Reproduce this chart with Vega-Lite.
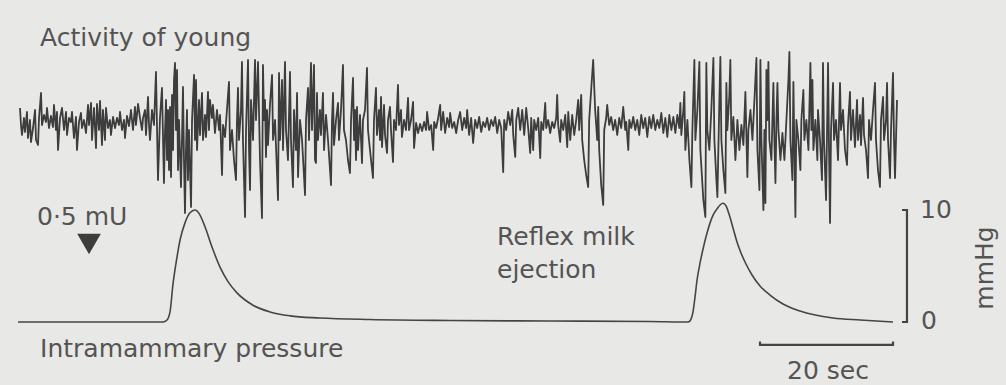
{
  "$schema": "https://vega.github.io/schema/vega-lite/v6.json",
  "width": 1006,
  "height": 385,
  "autosize": {"type": "fit", "contains": "padding"},
  "padding": 0,
  "background": "#e8e8e6",
  "config": {"view": {"stroke": null}},
  "datasets": {
    "activity": [
      {"t":0.30,"a":1.7},{"t":0.45,"a":0.0},{"t":0.60,"a":-1.0},{"t":0.90,"a":0.7},{"t":1.05,"a":-0.7},{"t":1.35,"a":1.3},{"t":1.50,"a":-1.3},{"t":1.80,"a":0.5},{"t":1.95,"a":-1.7},{"t":2.26,"a":-0.3},
      {"t":2.56,"a":1.5},{"t":2.71,"a":-1.5},{"t":3.01,"a":-2.0},{"t":3.16,"a":0.7},{"t":3.46,"a":3.2},{"t":3.61,"a":0.0},{"t":3.91,"a":1.0},{"t":4.21,"a":0.3},{"t":4.36,"a":1.7},{"t":4.66,"a":-0.3},
      {"t":4.96,"a":0.9},{"t":5.26,"a":-0.2},{"t":5.41,"a":2.0},{"t":5.71,"a":-0.5},{"t":5.86,"a":1.3},{"t":6.02,"a":-2.5},{"t":6.32,"a":0.7},{"t":6.62,"a":1.7},{"t":6.92,"a":-0.5},{"t":7.22,"a":1.3},
      {"t":7.37,"a":-1.0},{"t":7.67,"a":0.7},{"t":7.97,"a":0.3},{"t":8.12,"a":1.3},{"t":8.42,"a":-1.3},{"t":8.72,"a":0.8},{"t":8.87,"a":-2.5},{"t":9.17,"a":0.3},{"t":9.47,"a":1.2},{"t":9.62,"a":-0.3},
      {"t":9.92,"a":0.5},{"t":10.23,"a":-0.8},{"t":10.53,"a":2.0},{"t":10.68,"a":0.0},{"t":10.98,"a":2.2},{"t":11.13,"a":-1.5},{"t":11.43,"a":1.7},{"t":11.73,"a":-2.3},{"t":11.88,"a":2.1},{"t":12.18,"a":-0.5},
      {"t":12.33,"a":2.4},{"t":12.63,"a":-2.0},{"t":12.78,"a":1.5},{"t":13.08,"a":-1.5},{"t":13.23,"a":1.7},{"t":13.53,"a":-0.3},{"t":13.83,"a":0.5},{"t":13.98,"a":-1.0},{"t":14.29,"a":0.8},{"t":14.59,"a":-0.3},
      {"t":14.89,"a":0.7},{"t":15.19,"a":0.0},{"t":15.34,"a":1.3},{"t":15.64,"a":-0.5},{"t":15.94,"a":0.5},{"t":16.09,"a":-1.3},{"t":16.39,"a":0.9},{"t":16.69,"a":-0.1},{"t":16.99,"a":1.5},{"t":17.29,"a":-0.5},
      {"t":17.59,"a":1.8},{"t":17.74,"a":0.0},{"t":18.05,"a":2.1},{"t":18.35,"a":0.7},{"t":18.65,"a":-0.5},{"t":18.80,"a":0.7},{"t":19.10,"a":1.5},{"t":19.25,"a":-1.0},{"t":19.55,"a":2.8},{"t":19.70,"a":0.0},
      {"t":19.85,"a":-1.5},{"t":20.15,"a":1.5},{"t":20.45,"a":0.0},{"t":20.75,"a":5.3},{"t":21.05,"a":-5.5},{"t":21.35,"a":0.7},{"t":21.65,"a":3.7},{"t":21.95,"a":-5.8},{"t":22.11,"a":-0.5},{"t":22.26,"a":2.5},
      {"t":22.41,"a":-3.5},{"t":22.56,"a":1.5},{"t":22.71,"a":-4.5},{"t":22.86,"a":1.8},{"t":23.01,"a":-5.2},{"t":23.16,"a":3.0},{"t":23.31,"a":-2.5},{"t":23.46,"a":4.5},{"t":23.61,"a":6.2},{"t":23.76,"a":-0.5},
      {"t":23.91,"a":5.5},{"t":24.06,"a":-4.5},{"t":24.21,"a":0.5},{"t":24.51,"a":-6.2},{"t":24.66,"a":-1.5},{"t":24.81,"a":3.8},{"t":24.96,"a":-3.5},{"t":25.11,"a":-8.8},{"t":25.26,"a":-2.5},{"t":25.41,"a":1.5},
      {"t":25.56,"a":-5.5},{"t":25.71,"a":-0.5},{"t":26.02,"a":-8.2},{"t":26.17,"a":0.5},{"t":26.47,"a":5.0},{"t":26.62,"a":-1.5},{"t":26.77,"a":4.5},{"t":26.92,"a":-2.5},{"t":27.22,"a":2.5},{"t":27.37,"a":-1.0},
      {"t":27.67,"a":3.2},{"t":27.82,"a":-1.5},{"t":28.12,"a":1.0},{"t":28.27,"a":-1.2},{"t":28.57,"a":3.3},{"t":28.72,"a":-0.5},{"t":28.87,"a":2.5},{"t":29.17,"a":0.7},{"t":29.32,"a":2.0},{"t":29.62,"a":-0.8},
      {"t":29.92,"a":1.5},{"t":30.23,"a":-0.5},{"t":30.38,"a":1.0},{"t":30.68,"a":-5.0},{"t":30.83,"a":0.0},{"t":31.13,"a":-1.2},{"t":31.28,"a":0.2},{"t":31.58,"a":3.0},{"t":31.73,"a":4.3},{"t":31.88,"a":-2.5},
      {"t":32.18,"a":-0.5},{"t":32.48,"a":-3.5},{"t":32.78,"a":-5.5},{"t":32.93,"a":0.5},{"t":33.08,"a":3.7},{"t":33.23,"a":-1.5},{"t":33.53,"a":1.5},{"t":33.68,"a":6.3},{"t":33.83,"a":-1.5},{"t":34.14,"a":-9.2},
      {"t":34.29,"a":-0.5},{"t":34.59,"a":6.5},{"t":34.74,"a":-2.5},{"t":34.89,"a":-6.5},{"t":35.04,"a":2.5},{"t":35.34,"a":-1.5},{"t":35.64,"a":6.5},{"t":35.79,"a":0.5},{"t":36.09,"a":6.3},{"t":36.39,"a":-3.5},
      {"t":36.69,"a":-9.3},{"t":36.84,"a":6.0},{"t":36.99,"a":0.5},{"t":37.14,"a":2.5},{"t":37.29,"a":-3.2},{"t":37.44,"a":1.5},{"t":37.59,"a":-2.0},{"t":37.89,"a":2.0},{"t":38.20,"a":5.0},{"t":38.35,"a":-1.5},
      {"t":38.65,"a":0.5},{"t":39.10,"a":-7.5},{"t":39.25,"a":5.2},{"t":39.40,"a":-1.5},{"t":39.70,"a":4.5},{"t":39.85,"a":-2.5},{"t":40.15,"a":6.3},{"t":40.30,"a":-0.5},{"t":40.60,"a":-3.5},{"t":40.90,"a":5.3},
      {"t":41.05,"a":-1.5},{"t":41.35,"a":-6.2},{"t":41.50,"a":1.5},{"t":41.80,"a":-2.5},{"t":41.96,"a":3.2},{"t":42.11,"a":-5.2},{"t":42.41,"a":0.5},{"t":42.71,"a":-1.5},{"t":43.16,"a":-7.0},{"t":43.31,"a":0.5},
      {"t":43.61,"a":3.7},{"t":43.76,"a":-1.5},{"t":44.06,"a":6.2},{"t":44.21,"a":-0.5},{"t":44.51,"a":6.0},{"t":44.66,"a":-3.5},{"t":44.81,"a":-3.8},{"t":44.96,"a":3.2},{"t":45.11,"a":-1.5},{"t":45.41,"a":1.5},
      {"t":45.56,"a":-1.0},{"t":45.86,"a":3.2},{"t":46.02,"a":-2.5},{"t":46.32,"a":1.0},{"t":46.62,"a":-1.5},{"t":47.07,"a":-6.0},{"t":47.22,"a":0.5},{"t":47.37,"a":3.2},{"t":47.52,"a":-2.0},{"t":47.82,"a":0.5},
      {"t":48.12,"a":2.2},{"t":48.27,"a":-1.5},{"t":48.57,"a":1.5},{"t":48.87,"a":6.0},{"t":49.02,"a":-0.5},{"t":49.32,"a":-1.5},{"t":49.62,"a":-3.5},{"t":49.92,"a":-4.8},{"t":50.08,"a":0.5},{"t":50.38,"a":4.7},
      {"t":50.53,"a":-1.5},{"t":50.68,"a":1.5},{"t":50.83,"a":-3.5},{"t":50.98,"a":1.8},{"t":51.13,"a":-2.5},{"t":51.43,"a":1.0},{"t":51.73,"a":-3.8},{"t":51.88,"a":0.5},{"t":52.18,"a":1.5},{"t":52.48,"a":5.7},
      {"t":52.63,"a":-0.5},{"t":52.93,"a":-2.5},{"t":53.38,"a":-5.3},{"t":53.53,"a":0.5},{"t":53.83,"a":3.7},{"t":53.98,"a":-1.0},{"t":54.29,"a":1.5},{"t":54.44,"a":-1.5},{"t":54.59,"a":2.8},{"t":54.74,"a":-2.2},
      {"t":55.04,"a":2.0},{"t":55.19,"a":-1.0},{"t":55.49,"a":-2.8},{"t":55.64,"a":0.5},{"t":55.94,"a":1.8},{"t":56.09,"a":-0.5},{"t":56.39,"a":-3.7},{"t":56.54,"a":0.5},{"t":56.84,"a":-0.5},{"t":57.14,"a":4.0},
      {"t":57.29,"a":0.0},{"t":57.59,"a":1.5},{"t":57.74,"a":-1.2},{"t":58.05,"a":0.5},{"t":58.35,"a":-0.5},{"t":58.65,"a":2.7},{"t":58.80,"a":-0.5},{"t":59.10,"a":0.5},{"t":59.41,"a":2.3},{"t":59.56,"a":-2.3},
      {"t":59.86,"a":0.2},{"t":60.16,"a":-0.8},{"t":60.46,"a":0.1},{"t":60.77,"a":-0.6},{"t":61.07,"a":0.3},{"t":61.37,"a":-0.5},{"t":61.52,"a":1.3},{"t":61.82,"a":-0.5},{"t":62.13,"a":0.0},{"t":62.43,"a":-2.5},
      {"t":62.58,"a":0.3},{"t":62.88,"a":-0.3},{"t":63.18,"a":0.7},{"t":63.48,"a":2.0},{"t":63.63,"a":-0.5},{"t":63.93,"a":1.3},{"t":64.23,"a":-0.8},{"t":64.53,"a":0.7},{"t":64.83,"a":-0.2},{"t":64.98,"a":1.2},
      {"t":65.29,"a":-0.3},{"t":65.59,"a":0.3},{"t":65.89,"a":-0.8},{"t":66.19,"a":0.5},{"t":66.49,"a":1.3},{"t":66.79,"a":-0.5},{"t":67.09,"a":0.7},{"t":67.39,"a":-0.3},{"t":67.54,"a":1.5},{"t":67.84,"a":-1.0},
      {"t":68.14,"a":0.7},{"t":68.44,"a":-1.8},{"t":68.74,"a":0.5},{"t":69.05,"a":-0.3},{"t":69.35,"a":0.8},{"t":69.65,"a":-0.7},{"t":69.95,"a":0.3},{"t":70.25,"a":-0.2},{"t":70.55,"a":0.7},{"t":70.85,"a":-0.5},
      {"t":71.16,"a":0.5},{"t":71.46,"a":-0.1},{"t":71.76,"a":0.8},{"t":72.06,"a":-0.8},{"t":72.36,"a":0.5},{"t":72.66,"a":-0.3},{"t":72.96,"a":-4.7},{"t":73.11,"a":0.5},{"t":73.41,"a":-0.5},{"t":73.71,"a":1.3},
      {"t":74.02,"a":0.0},{"t":74.32,"a":1.5},{"t":74.47,"a":-1.0},{"t":74.77,"a":-3.2},{"t":74.92,"a":0.5},{"t":75.22,"a":1.7},{"t":75.52,"a":-0.5},{"t":75.82,"a":1.5},{"t":76.12,"a":-1.0},{"t":76.42,"a":1.7},
      {"t":76.72,"a":-0.3},{"t":77.02,"a":-2.8},{"t":77.17,"a":0.7},{"t":77.47,"a":-2.5},{"t":77.62,"a":0.5},{"t":77.92,"a":-0.5},{"t":78.23,"a":0.7},{"t":78.53,"a":-3.3},{"t":78.68,"a":0.3},{"t":78.98,"a":-0.5},
      {"t":79.28,"a":2.2},{"t":79.43,"a":-0.3},{"t":79.73,"a":0.5},{"t":80.03,"a":-0.8},{"t":80.33,"a":0.3},{"t":80.63,"a":-0.3},{"t":80.93,"a":0.7},{"t":81.08,"a":3.0},{"t":81.23,"a":0.0},{"t":81.53,"a":-1.7},
      {"t":81.68,"a":0.5},{"t":81.99,"a":-0.5},{"t":82.29,"a":1.0},{"t":82.59,"a":-2.2},{"t":82.74,"a":1.3},{"t":83.04,"a":-1.5},{"t":83.34,"a":1.0},{"t":83.64,"a":-1.0},{"t":83.94,"a":0.5},{"t":84.24,"a":2.5},
      {"t":84.39,"a":-0.5},{"t":84.69,"a":3.0},{"t":84.84,"a":-1.5},{"t":85.14,"a":-3.5},{"t":85.44,"a":-5.0},{"t":85.74,"a":-6.2},{"t":85.89,"a":0.5},{"t":86.19,"a":3.5},{"t":86.49,"a":6.5},{"t":86.79,"a":1.5},
      {"t":87.10,"a":-1.5},{"t":87.25,"a":1.8},{"t":87.40,"a":-2.5},{"t":87.70,"a":-6.0},{"t":88.00,"a":-8.0},{"t":88.15,"a":-0.5},{"t":88.45,"a":0.7},{"t":88.60,"a":2.0},{"t":88.90,"a":0.0},{"t":89.20,"a":0.8},
      {"t":89.50,"a":-0.5},{"t":89.80,"a":0.5},{"t":90.11,"a":-1.0},{"t":90.41,"a":0.7},{"t":90.71,"a":-0.3},{"t":91.01,"a":1.8},{"t":91.31,"a":-0.5},{"t":91.46,"a":0.3},{"t":91.77,"a":-2.5},{"t":91.92,"a":0.5},
      {"t":92.22,"a":-0.3},{"t":92.52,"a":0.8},{"t":92.82,"a":-0.5},{"t":93.12,"a":0.5},{"t":93.42,"a":-1.0},{"t":93.72,"a":1.0},{"t":94.02,"a":-0.3},{"t":94.32,"a":0.7},{"t":94.63,"a":-1.2},{"t":94.93,"a":0.8},
      {"t":95.23,"a":-0.3},{"t":95.53,"a":1.0},{"t":95.83,"a":-0.5},{"t":96.13,"a":0.5},{"t":96.44,"a":-0.3},{"t":96.74,"a":1.2},{"t":97.04,"a":-0.8},{"t":97.34,"a":0.7},{"t":97.64,"a":-1.2},{"t":97.94,"a":1.0},
      {"t":98.25,"a":-0.5},{"t":98.55,"a":0.8},{"t":98.85,"a":-0.8},{"t":99.15,"a":1.0},{"t":99.45,"a":-0.3},{"t":99.60,"a":2.2},{"t":99.75,"a":-1.0},{"t":100.05,"a":1.5},{"t":100.20,"a":3.3},{"t":100.35,"a":-2.5},
      {"t":100.66,"a":0.5},{"t":100.96,"a":-3.5},{"t":101.26,"a":-6.2},{"t":101.41,"a":-0.5},{"t":101.71,"a":6.5},{"t":101.86,"a":-1.5},{"t":102.16,"a":1.5},{"t":102.46,"a":6.3},{"t":102.61,"a":-2.5},{"t":103.06,"a":-7.5},
      {"t":103.36,"a":-9.2},{"t":103.51,"a":6.2},{"t":103.66,"a":-0.5},{"t":103.96,"a":-2.5},{"t":104.26,"a":1.5},{"t":104.57,"a":6.7},{"t":104.72,"a":-1.5},{"t":105.02,"a":-5.5},{"t":105.17,"a":-7.2},{"t":105.47,"a":2.5},
      {"t":105.62,"a":6.8},{"t":105.77,"a":-1.5},{"t":106.07,"a":-4.5},{"t":106.37,"a":-6.8},{"t":106.52,"a":4.2},{"t":106.67,"a":-0.5},{"t":106.97,"a":3.0},{"t":107.12,"a":6.5},{"t":107.27,"a":-1.5},{"t":107.57,"a":0.8},
      {"t":107.88,"a":-3.5},{"t":108.18,"a":0.5},{"t":108.48,"a":-2.5},{"t":108.78,"a":0.0},{"t":109.08,"a":-2.0},{"t":109.38,"a":3.3},{"t":109.68,"a":-5.2},{"t":109.83,"a":-0.5},{"t":110.14,"a":1.5},{"t":110.44,"a":-1.5},
      {"t":110.74,"a":2.5},{"t":111.04,"a":6.7},{"t":111.19,"a":-2.5},{"t":111.49,"a":-6.5},{"t":111.64,"a":6.5},{"t":111.79,"a":-1.5},{"t":112.09,"a":-8.5},{"t":112.24,"a":-0.5},{"t":112.39,"a":-7.8},{"t":112.54,"a":5.5},
      {"t":112.69,"a":0.5},{"t":112.84,"a":6.3},{"t":112.99,"a":-1.5},{"t":113.29,"a":-3.5},{"t":113.59,"a":4.2},{"t":113.74,"a":-1.5},{"t":113.90,"a":-5.8},{"t":114.05,"a":0.5},{"t":114.20,"a":4.2},{"t":114.35,"a":-0.5},
      {"t":114.65,"a":-3.5},{"t":114.95,"a":-0.8},{"t":115.25,"a":-3.5},{"t":115.55,"a":0.5},{"t":115.85,"a":4.5},{"t":116.00,"a":7.3},{"t":116.15,"a":-1.5},{"t":116.45,"a":-5.5},{"t":116.60,"a":4.3},{"t":116.75,"a":-2.5},
      {"t":116.90,"a":-9.2},{"t":117.05,"a":0.5},{"t":117.35,"a":-1.5},{"t":117.65,"a":-4.5},{"t":117.80,"a":0.5},{"t":118.10,"a":3.5},{"t":118.25,"a":-1.5},{"t":118.55,"a":0.5},{"t":118.86,"a":-2.5},{"t":119.16,"a":6.2},
      {"t":119.31,"a":-0.5},{"t":119.46,"a":4.5},{"t":119.61,"a":-2.5},{"t":119.91,"a":0.5},{"t":120.21,"a":-3.5},{"t":120.30,"a":1.5},{"t":120.60,"a":-1.5},{"t":120.90,"a":-5.5},{"t":121.05,"a":6.2},{"t":121.20,"a":-1.5},
      {"t":121.51,"a":-7.5},{"t":121.81,"a":6.2},{"t":121.96,"a":-2.5},{"t":122.11,"a":-9.8},{"t":122.26,"a":-0.5},{"t":122.56,"a":4.2},{"t":122.71,"a":-1.5},{"t":123.01,"a":0.5},{"t":123.31,"a":-3.5},{"t":123.61,"a":4.2},
      {"t":123.76,"a":-0.5},{"t":124.06,"a":1.5},{"t":124.36,"a":-2.5},{"t":124.66,"a":-4.0},{"t":124.81,"a":0.0},{"t":125.11,"a":3.3},{"t":125.26,"a":-1.5},{"t":125.56,"a":1.5},{"t":125.86,"a":-2.2},{"t":126.17,"a":2.5},
      {"t":126.32,"a":-1.5},{"t":126.62,"a":1.0},{"t":126.77,"a":-2.0},{"t":127.07,"a":2.7},{"t":127.22,"a":-1.0},{"t":127.52,"a":-2.5},{"t":127.82,"a":-5.3},{"t":127.97,"a":0.5},{"t":128.27,"a":-1.5},{"t":128.57,"a":1.5},
      {"t":128.87,"a":4.2},{"t":129.02,"a":-1.5},{"t":129.32,"a":-4.5},{"t":129.62,"a":-6.2},{"t":129.77,"a":0.5},{"t":130.08,"a":2.8},{"t":130.23,"a":-1.5},{"t":130.53,"a":0.5},{"t":130.68,"a":4.2},{"t":130.83,"a":-1.5},
      {"t":131.13,"a":-5.3},{"t":131.28,"a":-0.5},{"t":131.58,"a":5.2},{"t":131.73,"a":-1.5},{"t":131.88,"a":-5.3},{"t":132.18,"a":2.5}
    ],
    "pressure": [
      {"t":0,"p":0},{"t":12.33,"p":0},{"t":21.80,"p":0},{"t":22.41,"p":0.18},{"t":22.86,"p":0.9},{"t":23.31,"p":3.4},{"t":23.91,"p":5.8},{"t":24.36,"p":7.3},
      {"t":25.11,"p":8.85},{"t":25.86,"p":9.75},{"t":26.62,"p":10.0},{"t":27.37,"p":9.55},{"t":28.12,"p":8.5},{"t":29.17,"p":6.7},{"t":30.38,"p":4.9},{"t":31.58,"p":3.6},
      {"t":32.93,"p":2.6},{"t":35.34,"p":1.5},{"t":37.89,"p":0.9},{"t":40.90,"p":0.55},{"t":45.41,"p":0.36},{"t":52.93,"p":0.22},{"t":64.96,"p":0.13},{"t":80.00,"p":0.09},
      {"t":95.04,"p":0.05},{"t":100.75,"p":0},{"t":101.05,"p":0.1},{"t":101.50,"p":0.9},{"t":101.80,"p":2.2},{"t":102.11,"p":3.75},{"t":102.56,"p":5.25},{"t":103.16,"p":6.9},
      {"t":103.61,"p":7.95},{"t":104.07,"p":8.85},{"t":104.52,"p":9.55},{"t":105.12,"p":10.1},{"t":105.57,"p":10.45},{"t":106.02,"p":10.6},{"t":106.47,"p":10.36},{"t":106.92,"p":9.64},
      {"t":107.52,"p":8.39},{"t":108.12,"p":7.14},{"t":108.72,"p":6.16},{"t":109.47,"p":5.18},{"t":110.38,"p":4.2},{"t":111.58,"p":3.21},{"t":113.08,"p":2.41},{"t":115.04,"p":1.61},
      {"t":117.59,"p":0.98},{"t":122.56,"p":0.36},{"t":126.62,"p":0.18},{"t":131.58,"p":0}
    ],
    "pressureBar": [
      {"t":132.93,"p":10,"k":0},{"t":133.68,"p":10,"k":1},{"t":133.68,"p":0,"k":2},{"t":132.93,"p":0,"k":3}
    ],
    "timeBar": [
      {"t":111.58,"p":-1.75,"k":0},{"t":111.58,"p":-2.05,"k":1},{"t":131.58,"p":-2.05,"k":2},{"t":131.58,"p":-1.75,"k":3}
    ],
    "dose": [
      {"t":10.68,"p":6.96}
    ]
  },
  "resolve": {"scale": {"y": "independent"}},
  "layer": [
    {
      "data": {"name": "activity"},
      "mark": {"type": "line", "color": "#3d3d3d", "strokeWidth": 1.8, "strokeJoin": "round"},
      "encoding": {
        "x": {"field": "t", "type": "quantitative", "scale": {"domain": [-2.707, 148.57], "nice": false, "zero": false}, "axis": null},
        "y": {"field": "a", "type": "quantitative", "scale": {"domain": [-26, 12.5], "nice": false, "zero": false}, "axis": null}
      }
    },
    {
      "layer": [
        {
          "data": {"name": "pressure"},
          "mark": {"type": "line", "color": "#454545", "strokeWidth": 1.6, "interpolate": "monotone"},
          "encoding": {
            "x": {"field": "t", "type": "quantitative", "scale": {"domain": [-2.707, 148.57], "nice": false, "zero": false}, "axis": null},
            "y": {"field": "p", "type": "quantitative", "scale": {"domain": [-5.625, 28.75], "nice": false, "zero": false}, "axis": null}
          }
        },
        {
          "data": {"name": "pressureBar"},
          "mark": {"type": "line", "color": "#454545", "strokeWidth": 2.2},
          "encoding": {
            "x": {"field": "t", "type": "quantitative", "axis": null},
            "y": {"field": "p", "type": "quantitative", "axis": null},
            "order": {"field": "k"}
          }
        },
        {
          "data": {"name": "timeBar"},
          "mark": {"type": "line", "color": "#454545", "strokeWidth": 2.2},
          "encoding": {
            "x": {"field": "t", "type": "quantitative", "axis": null},
            "y": {"field": "p", "type": "quantitative", "axis": null},
            "order": {"field": "k"}
          }
        },
        {
          "data": {"name": "dose"},
          "mark": {"type": "point", "shape": "triangle-down", "filled": true, "size": 560, "color": "#3d3d3d", "opacity": 1},
          "encoding": {
            "x": {"field": "t", "type": "quantitative", "axis": null},
            "y": {"field": "p", "type": "quantitative", "axis": null}
          }
        },
        {
          "data": {"values": [{}]},
          "mark": {"type": "text", "text": "Activity of young", "align": "left", "baseline": "alphabetic", "font": "DejaVu Sans", "fontSize": 25, "color": "#545454"},
          "encoding": {"x": {"datum": 3.31, "type": "quantitative"}, "y": {"datum": 24.64, "type": "quantitative"}}
        },
        {
          "data": {"values": [{}]},
          "mark": {"type": "text", "text": "0·5 mU", "align": "left", "baseline": "alphabetic", "font": "DejaVu Sans", "fontSize": 25, "color": "#545454"},
          "encoding": {"x": {"datum": 2.86, "type": "quantitative"}, "y": {"datum": 8.66, "type": "quantitative"}}
        },
        {
          "data": {"values": [{}]},
          "mark": {"type": "text", "text": ["Reflex milk", "ejection"], "lineHeight": 33, "align": "left", "baseline": "alphabetic", "font": "DejaVu Sans", "fontSize": 25, "color": "#545454"},
          "encoding": {"x": {"datum": 72.03, "type": "quantitative"}, "y": {"datum": 6.875, "type": "quantitative"}}
        },
        {
          "data": {"values": [{}]},
          "mark": {"type": "text", "text": "Intramammary pressure", "align": "left", "baseline": "alphabetic", "font": "DejaVu Sans", "fontSize": 25, "color": "#545454"},
          "encoding": {"x": {"datum": 3.31, "type": "quantitative"}, "y": {"datum": -3.125, "type": "quantitative"}}
        },
        {
          "data": {"values": [{}]},
          "mark": {"type": "text", "text": "10", "align": "left", "baseline": "alphabetic", "font": "DejaVu Sans", "fontSize": 25, "color": "#545454"},
          "encoding": {"x": {"datum": 135.64, "type": "quantitative"}, "y": {"datum": 9.29, "type": "quantitative"}}
        },
        {
          "data": {"values": [{}]},
          "mark": {"type": "text", "text": "0", "align": "left", "baseline": "alphabetic", "font": "DejaVu Sans", "fontSize": 25, "color": "#545454"},
          "encoding": {"x": {"datum": 135.79, "type": "quantitative"}, "y": {"datum": -0.625, "type": "quantitative"}}
        },
        {
          "data": {"values": [{}]},
          "mark": {"type": "text", "text": "mmHg", "angle": 270, "align": "center", "baseline": "middle", "font": "DejaVu Sans", "fontSize": 25, "color": "#545454"},
          "encoding": {"x": {"datum": 145.41, "type": "quantitative"}, "y": {"datum": 4.82, "type": "quantitative"}}
        },
        {
          "data": {"values": [{}]},
          "mark": {"type": "text", "text": "20 sec", "align": "center", "baseline": "alphabetic", "font": "DejaVu Sans", "fontSize": 25, "color": "#545454"},
          "encoding": {"x": {"datum": 121.8, "type": "quantitative"}, "y": {"datum": -5.09, "type": "quantitative"}}
        }
      ]
    }
  ]
}
